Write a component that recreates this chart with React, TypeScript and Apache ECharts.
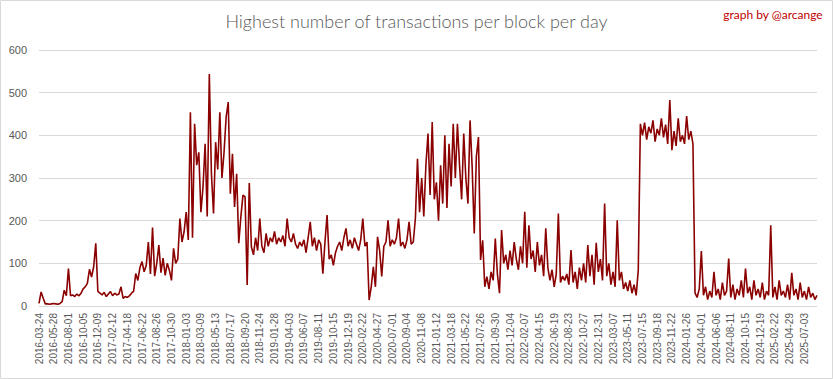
import React, { useEffect, useRef } from "react";
import * as echarts from "echarts";

const tickLabels = [
  "2016-03-24","2016-05-28","2016-08-01","2016-10-05","2016-12-09","2017-02-12","2017-04-18","2017-06-22","2017-08-26","2017-10-30",
  "2018-01-03","2018-03-09","2018-05-13","2018-07-17","2018-09-20","2018-11-24","2019-01-28","2019-04-03","2019-06-07","2019-08-11",
  "2019-10-15","2019-12-19","2020-02-22","2020-04-27","2020-07-01","2020-09-04","2020-11-08","2021-01-12","2021-03-18","2021-05-22",
  "2021-07-26","2021-09-30","2021-12-04","2022-02-07","2022-04-15","2022-06-19","2022-08-23","2022-10-27","2022-12-31","2023-03-07",
  "2023-05-11","2023-07-15","2023-09-18","2023-11-22","2024-01-26","2024-04-01","2024-06-06","2024-08-11","2024-10-15","2024-12-19",
  "2025-02-22","2025-04-29","2025-07-03",
];

// samples per label interval
const SAMPLES_PER_TICK = 7;

const values2016_2017 = [6,33,18,5, 5,4,5,6,5,4,6, 10,37,24,88,24, 26,22,28,24,30, 40,45,53,86,68,92,147,34, 30,26,32,22,28,34,24,30,26,28, 45,18,22,20,24,30,34,76,60,90,104, 80,95,150,75,184,70,100,143,78,112,72,100];
const values2018 = [84,60,135,100,110,205,150,174,220,155,454,160,427,330,360,220,279,380,210,544,310,217,384,320,454,300,360,443,478,263,357,232,310,147,209,260,256,49,288,139,120,160,130,205,140,125,170,140,160,150,175,145,160,150,165,140,205,160,150,170,145,135,150];
const values2019_2020 = [140,155,125,160,197,140,160,130,155,145,76,150,213,110,120,95,125,140,150,130,160,182,140,155,135,160,145,130,155,205,140,150,14,45,92,45,162,130,69,140,150,201,140,155,145,160,205,140,150,135,155,197,145,150,205,345,220,300,210,330,404,260];
const values2021 = [431,250,290,200,330,240,400,230,380,280,427,300,427,330,250,404,300,240,435,326,170,350,396,108,154,45,69,40,80,60,158,75,30,178,100,120,85,130,95,150,110,85,140,100,221,90,189,110,130,80,150,95,120,70,182,90,60,85,45,75,217,55,70,60];
const values2022_2023 = [75,50,131,55,80,40,90,60,100,55,143,70,120,50,148,80,110,60,240,70,100,50,80,45,201,60,80,40,55,35,60,30,50,25,84,427,400,430,390,420,405,435,385,415,400,440,395,425,380,483,365,410,375,440,385,400,380,445,390,410,380];
const values2024_2025 = [30,20,40,129,25,45,15,35,20,80,25,40,15,55,25,35,111,20,50,15,40,25,60,20,88,30,45,15,60,25,40,20,55,15,35,25,189,20,45,15,60,25,35,20,50,15,78,25,40,15,55,20,35,15,45,20,30,15,25];

const allValues = [
  ...values2016_2017,
  ...values2018,
  ...values2019_2020,
  ...values2021,
  ...values2022_2023,
  ...values2024_2025,
];

export default function App() {
  const ref = useRef<HTMLDivElement>(null);
  useEffect(() => {
    if (!ref.current) return;
    const chart = echarts.init(ref.current, null, { renderer: "svg" });
    const data = allValues.map((v, i) => [i / SAMPLES_PER_TICK, v]);
    const xMax = (allValues.length - 1) / SAMPLES_PER_TICK;
    chart.setOption({
      animation: false,
      backgroundColor: "#ffffff",
      title: {
        text: "Highest number of transactions per block per day",
        left: "center",
        top: 7,
        textStyle: { fontFamily: "Lato", fontSize: 18, fontWeight: 300, color: "#595959" },
      },
      graphic: [
        {
          type: "text",
          right: 10,
          top: 8,
          style: { text: "graph by @arcange", fill: "#c00000", font: "12px Lato" },
        },
        {
          type: "rect",
          shape: { x: 0.5, y: 0.5, width: 832, height: 378 },
          style: { fill: "none", stroke: "#d9d9d9", lineWidth: 1 },
          silent: true,
        },
      ],
      grid: { left: 39, right: 16, top: 50, bottom: 73 },
      xAxis: {
        type: "value",
        min: 0,
        max: xMax,
        interval: 1,
        axisLine: { show: false },
        axisTick: { show: false },
        splitLine: { show: false },
        axisLabel: {
          rotate: 90,
          margin: 7,
          color: "#595959",
          fontFamily: "Liberation Sans",
          fontSize: 10,
          showMaxLabel: false,
          formatter: (v: number) => {
            const r = Math.round(v);
            if (Math.abs(v - r) > 1e-6) return "";
            return tickLabels[r] ?? "";
          },
        },
      },
      yAxis: {
        type: "value",
        min: 0,
        max: 600,
        interval: 100,
        axisLine: { show: false },
        axisTick: { show: false },
        splitLine: { lineStyle: { color: "#d9d9d9", width: 1 } },
        axisLabel: { color: "#595959", fontFamily: "Liberation Sans", fontSize: 11, margin: 12 },
      },
      series: [
        {
          type: "line",
          data,
          showSymbol: false,
          lineStyle: { color: "#8b0000", width: 1.6 },
          itemStyle: { color: "#8b0000" },
        },
      ],
    });
    return () => chart.dispose();
  }, []);
  return (
    <div
      ref={ref}
      style={{ position: "absolute", left: 0, top: 0, width: 833, height: 379 }}
    />
  );
}
